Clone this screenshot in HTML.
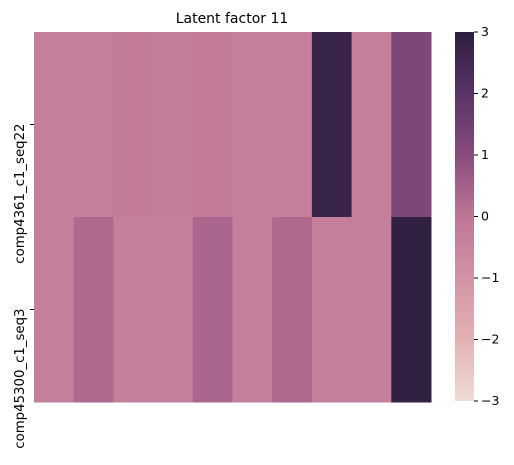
<!DOCTYPE html>
<html><head><meta charset="utf-8"><style>
body{margin:0;background:#fff;font-family:"Liberation Sans","DejaVu Sans",sans-serif;}
svg text{font-family:"DejaVu Sans","Liberation Sans",sans-serif;}
</style></head><body>
<svg id="chart" width="514" height="460">
<defs><linearGradient id="cbg" x1="0" y1="1" x2="0" y2="0"></linearGradient></defs>
<text x="232" y="23" font-size="14" text-anchor="middle">Latent factor 11</text>
<g id="cells"></g><g id="yaxis"></g><g id="cbar"></g>
</svg>
<script>
const rowLabels=["comp4361_c1_seq22","comp45300_c1_seq3"];
const row1Values=[-0.3,-0.3,-0.2,-0.25,-0.2,-0.3,-0.3,2.7,-0.3,1.2];
const row2Values=[-0.3,0.3,-0.3,-0.3,0.35,-0.3,0.3,-0.3,-0.3,2.9];
const cbarTicks=[3,2,1,0,-1,-2,-3];
const NS="http://www.w3.org/2000/svg";
const X0=34,X1=431,Y0=32,Y1=402,vmin=-3,vmax=3;
const stops=[[-3,[238,219,212]],[-2,[226,178,180]],[-1,[210,148,166]],[0,[190,118,150]],[1,[134,76,124]],[2,[88,52,102]],[3,[45,30,62]]];
function color(v){v=Math.max(vmin,Math.min(vmax,v));for(let i=0;i<stops.length-1;i++){const a=stops[i],b=stops[i+1];if(v<=b[0]){const t=(v-a[0])/(b[0]-a[0]);return 'rgb('+a[1].map((c,k)=>Math.round(c+(b[1][k]-c)*t)).join(',')+')';}}return 'rgb(45,30,62)';}
const data=[row1Values,row2Values];
const nc=row1Values.length,cw=(X1-X0)/nc,rh=(Y1-Y0)/data.length;
const cells=document.getElementById('cells');
data.forEach((row,r)=>row.forEach((v,c)=>{const el=document.createElementNS(NS,'rect');
el.setAttribute('x',X0+c*cw);el.setAttribute('y',Y0+r*rh);el.setAttribute('width',cw+0.5);el.setAttribute('height',rh+0.5);el.setAttribute('fill',color(v));


cells.appendChild(el);}));
const ya=document.getElementById('yaxis');
rowLabels.forEach((l,r)=>{const y=Y0+(r+0.5)*rh;
const t=document.createElementNS(NS,'line');t.setAttribute('x1',X0-4);t.setAttribute('x2',X0);t.setAttribute('y1',y);t.setAttribute('y2',y);t.setAttribute('stroke','#000');


ya.appendChild(t);
const tx=document.createElementNS(NS,'text');tx.setAttribute('transform','translate(24,'+(y-1)+') rotate(-90)');tx.setAttribute('text-anchor','end');tx.setAttribute('font-size','13.3');tx.textContent=l;


ya.appendChild(tx);});
const g=document.getElementById('cbg');
stops.forEach(s=>{const st=document.createElementNS(NS,'stop');st.setAttribute('offset',((s[0]-vmin)/(vmax-vmin)));st.setAttribute('stop-color',color(s[0]));g.appendChild(st);});
const CX0=455,CX1=474,cb=document.getElementById('cbar');
const cr=document.createElementNS(NS,'rect');cr.setAttribute('x',CX0);cr.setAttribute('y',Y0);cr.setAttribute('width',CX1-CX0);cr.setAttribute('height',Y1-Y0-1);cr.setAttribute('fill','url(#cbg)');


cb.appendChild(cr);
cbarTicks.forEach(v=>{const y=Y0+(vmax-v)/(vmax-vmin)*(Y1-1-Y0);
const t=document.createElementNS(NS,'line');t.setAttribute('x1',CX1);t.setAttribute('x2',CX1+4);t.setAttribute('y1',y);t.setAttribute('y2',y);t.setAttribute('stroke','#000');


cb.appendChild(t);
const tx=document.createElementNS(NS,'text');tx.setAttribute('x',CX1+7);tx.setAttribute('y',y+4);tx.setAttribute('font-size','12.5');tx.textContent=v<0?'\u2212'+(-v):String(v);


cb.appendChild(tx);});
</script>
</body></html>
